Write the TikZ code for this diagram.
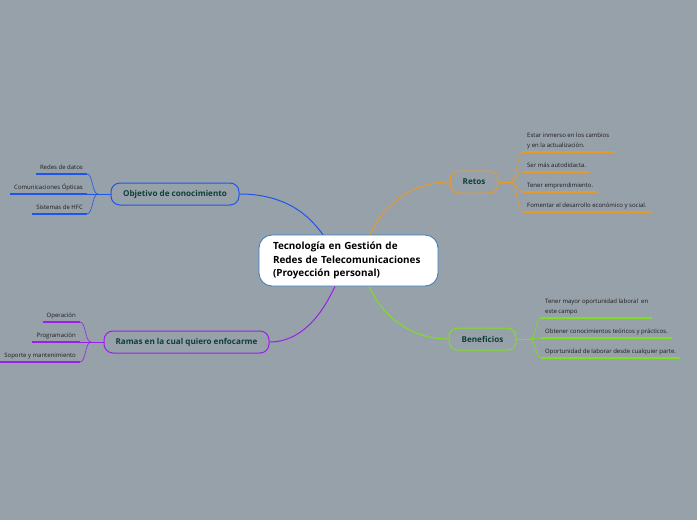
\documentclass[tikz,border=0pt]{standalone}
\usepackage{fontspec}
\setmainfont{Open Sans}
\definecolor{bg}{HTML}{97A1AA}
\definecolor{cblue}{HTML}{1F55EE}
\definecolor{cpurple}{HTML}{9B1FE8}
\definecolor{corange}{HTML}{E69A2A}
\definecolor{cgreen}{HTML}{7EDF1E}
\definecolor{cborder}{HTML}{2E7CC4}
\definecolor{ntext}{HTML}{0D3F36}
\definecolor{ltext}{HTML}{1C1C1C}
\tikzset{
  central/.style={draw=cborder, line width=0.8pt, fill=white, rounded corners=13pt,
    minimum width=179pt, minimum height=51pt, text width=151pt, align=left,
    font=\fontsize{9.9}{13.5}\selectfont\bfseries, text=black, inner sep=0pt},
  topic/.style={draw=#1, line width=1pt, rounded corners=9pt, minimum height=22pt,
    font=\fontsize{8.1}{9}\selectfont\bfseries, text=ntext, inner sep=0pt},
  leaf/.style={font=\fontsize{6}{10}\selectfont, text=ltext, inner xsep=4pt, inner ysep=2.5pt,
    text depth=1.8pt, align=left,
    append after command={(\tikzlastnode.south west) edge[draw=#1, line width=1.4pt] (\tikzlastnode.south east)}},
  branch/.style={draw=#1, line width=1pt},
  twig/.style={draw=#1, line width=0.6pt},
}
\begin{document}
\begin{tikzpicture}[x=1pt, y=-1pt]
\fill[bg] (0,0) rectangle (697,520);
\useasboundingbox (0,0) rectangle (697,520);

\node[central] (c) at (348.5,260.5) {Tecnología en Gestión de\\Redes de Telecomunicaciones\\(Proyección personal)};

\node[topic=cblue, minimum width=128pt] (obj) at (175,194) {Objetivo de conocimiento};
\node[topic=cpurple, minimum width=165pt] (ram) at (186.5,342) {Ramas en la cual quiero enfocarme};
\node[topic=corange, minimum width=48pt] (ret) at (474,182) {Retos};
\node[topic=cgreen, minimum width=67pt] (ben) at (482.5,339) {Beneficios};

% attachment points on central node
\coordinate (cb) at ([xshift=-25.5pt]c.north);
\coordinate (cp) at ([xshift=-13.5pt]c.south);
\coordinate (co) at ([xshift=21.5pt]c.north);
\coordinate (cg) at ([xshift=20.5pt]c.south);

\draw[branch=cblue] (obj.east) .. controls +(55,0) and +(-8,-10) .. (cb);
\draw[branch=cpurple] (ram.east) .. controls +(40,0) and +(-6,12) .. (cp);
\draw[branch=corange] (ret.west) .. controls +(-50,0) and +(6,-14) .. (co);
\draw[branch=cgreen] (ben.west) .. controls +(-50,0) and +(6,14) .. (cg);

% forks
\coordinate (fb) at (98,194);
\coordinate (fp) at (91,342);
\coordinate (fo) at (511,182);
\coordinate (fg) at (530,339);

% leaves: Objetivo
\node[leaf=cblue, anchor=south east] (b1) at (87,174) {Redes de datos};
\node[leaf=cblue, anchor=south east] (b2) at (87,194) {Comunicaciones Ópticas};
\node[leaf=cblue, anchor=south east] (b3) at (87,214) {Sistemas de HFC};
% leaves: Ramas
\node[leaf=cpurple, anchor=south east] (p1) at (80,322) {Operación};
\node[leaf=cpurple, anchor=south east] (p2) at (80,342) {Programación};
\node[leaf=cpurple, anchor=south east] (p3) at (80,362) {Soporte y mantenimiento};
% leaves: Retos
\node[leaf=corange, anchor=south west] (o1) at (523,152) {Estar inmerso en los cambios\\y en la actualización.};
\node[leaf=corange, anchor=south west] (o2) at (523,172) {Ser más autodidacta.};
\node[leaf=corange, anchor=south west] (o3) at (523,192) {Tener emprendimiento.};
\node[leaf=corange, anchor=south west] (o4) at (523,212) {Fomentar el desarrollo económico y social.};
% leaves: Beneficios
\node[leaf=cgreen, anchor=south west] (g1) at (541,318) {Tener mayor oportunidad laboral~ en\\este campo};
\node[leaf=cgreen, anchor=south west] (g2) at (541,338) {Obtener conocimientos teóricos y prácticos.};
\node[leaf=cgreen, anchor=south west] (g3) at (541,358) {Oportunidad de laborar desde cualquier parte.};

% twigs
\draw[twig=cblue] (obj.west) -- (fb);
\foreach \n in {b1,b2,b3} \draw[twig=cblue] (fb) .. controls +(-6,0) and +(6,0) .. (\n.south east);
\draw[twig=cpurple] (ram.west) -- (fp);
\foreach \n in {p1,p2,p3} \draw[twig=cpurple] (fp) .. controls +(-6,0) and +(6,0) .. (\n.south east);
\draw[twig=corange] (ret.east) -- (fo);
\foreach \n in {o1,o2,o3,o4} \draw[twig=corange] (fo) .. controls +(6,0) and +(-6,0) .. (\n.south west);
\draw[twig=cgreen] (ben.east) -- (fg);
\foreach \n in {g1,g2,g3} \draw[twig=cgreen] (fg) .. controls +(6,0) and +(-6,0) .. (\n.south west);
\end{tikzpicture}
\end{document}
